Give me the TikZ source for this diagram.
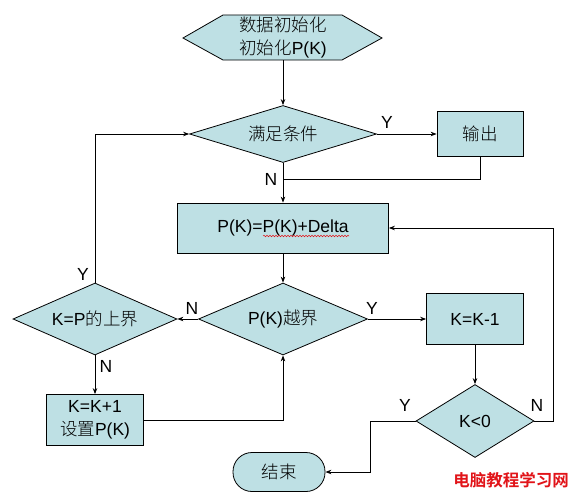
\documentclass[tikz,border=0pt]{standalone}
\usepackage{fontspec}
\setmainfont{Liberation Sans}
\newfontfamily\cjk{Noto Sans CJK SC}[UprightFont={* Light}, BoldFont={* Bold}]
\usetikzlibrary{shapes.geometric,arrows.meta,decorations.pathmorphing}
\definecolor{boxfill}{RGB}{190,224,228}
\definecolor{wmred}{RGB}{225,20,25}
\begin{document}
\begin{tikzpicture}[x=1pt,y=-1pt,
  txt/.style={font=\fontsize{17.5}{23}\selectfont, align=center},
  box/.style={txt, draw=black, fill=boxfill, line width=0.8pt, inner sep=0pt},
  dia/.style={txt, diamond, draw=black, fill=boxfill, line width=0.8pt, inner sep=0pt},
  arr/.style={-{Stealth[length=6pt,width=4.5pt]}, line width=0.8pt},
  ln/.style={line width=0.8pt},
  lbl/.style={font=\fontsize{17.5}{20}\selectfont, inner sep=0pt}]
\useasboundingbox (0,0) rectangle (577,503);
% start hexagon
\filldraw[fill=boxfill, draw=black, line width=0.8pt]
  (183,38) -- (223,15) -- (342,15) -- (382,38) -- (342,60) -- (223,60) -- cycle;
\node[txt, minimum width=199pt, minimum height=45pt, inner sep=0pt] (init) at (283,37.5)
  {{\cjk 数据初始化}\\{\cjk 初始化}P(K)};
% nodes
\node[dia, minimum width=187pt, minimum height=57pt, aspect=3.28] (cond) at (283,134) {\cjk 满足条件};
\node[box, minimum width=86pt, minimum height=45pt] (out) at (480,134) {\cjk 输出};
\node[box, minimum width=211pt, minimum height=50pt] (pk) at (283,228) {P(K)=P(K)+Delta};
\node[dia, minimum width=169pt, minimum height=72pt, aspect=2.35] (ovf) at (283,319) {P(K){\cjk 越界}};
\node[dia, minimum width=164pt, minimum height=72pt, aspect=2.28] (bnd) at (95,319) {K=P{\cjk 的上界}};
\node[box, minimum width=97pt, minimum height=51pt] (inc) at (95,420) {K=K+1\\{\cjk 设置}P(K)};
\node[box, minimum width=97pt, minimum height=51pt] (dec) at (475,319) {K=K-1};
\node[dia, minimum width=118pt, minimum height=73pt, aspect=1.6] (neg) at (475,421) {K<0};
\node[box, minimum width=92pt, minimum height=39pt, rounded corners=19pt] (end) at (279,472) {\cjk 结束};
% spell-check squiggle
\draw[wmred, line width=0.5pt, decorate, decoration={snake, amplitude=0.8pt, segment length=3pt}]
  (263,236) -- (349,236);
% helper coordinates
\coordinate (j1) at (283,179);
\coordinate (rr) at (553,421);
\coordinate (ll) at (370,421);
% connectors
\draw[arr] (init.south) -- (cond.north);
\draw[arr] (cond.east) -- (out.west);
\draw[ln] (out.south) |- (j1);
\draw[arr] (cond.south) -- (pk.north);
\draw[arr] (pk.south) -- (ovf.north);
\draw[arr] (ovf.west) -- (bnd.east);
\draw[arr] (bnd.north) |- (cond.west);
\draw[arr] (bnd.south) -- (inc.north);
\draw[arr] (inc.east) -| (ovf.south);
\draw[arr] (ovf.east) -- (dec.west);
\draw[arr] (dec.south) -- (neg.north);
\draw[arr] (neg.east) -- (rr) |- (pk.east);
\draw[arr] (neg.west) -- (ll) |- (end.east);
% labels
\node[lbl] (ly1) at (387,122) {Y};
\node[lbl] (ln1) at (271,179) {N};
\node[lbl] (ln2) at (192,308) {N};
\node[lbl] (ly2) at (83,274) {Y};
\node[lbl] (ly3) at (372,308) {Y};
\node[lbl] (ln3) at (106,366) {N};
\node[lbl] (ly4) at (405,405) {Y};
\node[lbl] (ln4) at (537,405) {N};
% watermark
\node[font=\fontsize{16.5}{20}\selectfont\cjk\bfseries, text=wmred, inner sep=0pt] (wm) at (511,480) {电脑教程学习网};
\end{tikzpicture}
\end{document}
